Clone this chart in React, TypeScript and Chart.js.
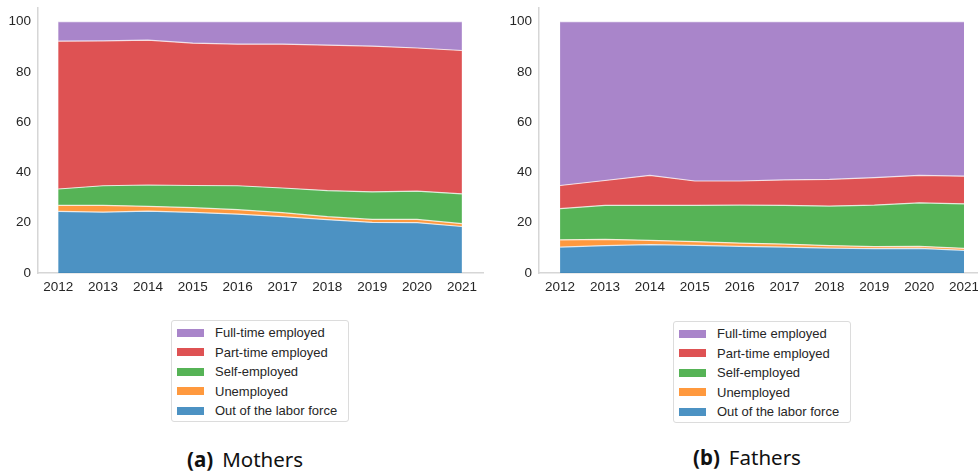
import React, { useEffect, useRef } from "react";
import { Chart, registerables } from "chart.js";

Chart.register(...registerables);

const years = [2012, 2013, 2014, 2015, 2016, 2017, 2018, 2019, 2020, 2021];
const yTicks = [0, 20, 40, 60, 80, 100];

const seriesNames = [
  "Out of the labor force",
  "Unemployed",
  "Self-employed",
  "Part-time employed",
  "Full-time employed",
];
const seriesColors = [
  "rgba(31,119,180,0.8)",
  "rgba(255,127,14,0.8)",
  "rgba(44,160,44,0.8)",
  "rgba(214,39,40,0.8)",
  "rgba(148,103,189,0.8)",
];

// Mothers (%)
const mothersOut = [24.5, 24.2, 24.6, 24.1, 23.4, 22.4, 21.2, 20.1, 20.0, 18.5];
const mothersUnemp = [2.4, 2.7, 1.9, 1.9, 1.8, 1.6, 1.2, 1.2, 1.3, 1.1];
const mothersSelf = [6.5, 7.8, 8.5, 8.8, 9.5, 9.8, 10.4, 11.0, 11.3, 11.9];
const mothersPart = [58.8, 57.6, 57.6, 56.6, 56.3, 57.2, 57.8, 57.9, 56.9, 57.0];
const mothersFull = [7.8, 7.7, 7.4, 8.6, 9.0, 9.0, 9.4, 9.8, 10.5, 11.5];

// Fathers (%)
const fathersOut = [10.3, 10.9, 11.3, 11.0, 10.6, 10.3, 9.9, 9.7, 9.8, 9.0];
const fathersUnemp = [2.9, 2.5, 1.7, 1.5, 1.3, 1.2, 1.0, 0.8, 0.8, 0.8];
const fathersSelf = [12.4, 13.5, 13.9, 14.4, 15.1, 15.4, 15.7, 16.5, 17.3, 17.7];
const fathersPart = [9.2, 9.9, 11.9, 9.7, 9.6, 10.1, 10.6, 10.9, 10.9, 11.0];
const fathersFull = [65.2, 63.2, 61.2, 63.4, 63.4, 63.0, 62.8, 62.1, 61.2, 61.5];

const mothersSeries = [mothersOut, mothersUnemp, mothersSelf, mothersPart, mothersFull];
const fathersSeries = [fathersOut, fathersUnemp, fathersSelf, fathersPart, fathersFull];

const TICK_FONT = { family: "'Liberation Sans', Arial, sans-serif", size: 13.5 };
const TICK_COLOR = "#262626";
const SPINE = "#d6d6d6";

type PanelProps = {
  series: number[][];
  width: number;
  height: number;
  yAxisWidth: number;
  padRight: number;
  xMin: number;
  xMax: number;
};

function AreaPanel({ series, width, height, yAxisWidth, padRight, xMin, xMax }: PanelProps) {
  const ref = useRef<HTMLCanvasElement | null>(null);
  useEffect(() => {
    if (!ref.current) return;
    const chart = new Chart(ref.current, {
      type: "line",
      data: {
        datasets: series.map((vals, i) => ({
          label: seriesNames[i],
          data: vals.map((v, j) => ({ x: years[j], y: v })),
          backgroundColor: seriesColors[i],
          borderColor: "rgba(255,255,255,0.75)",
          borderWidth: 1.2,
          pointRadius: 0,
          tension: 0,
          fill: i === 0 ? "origin" : "-1",
        })),
      },
      options: {
        animation: false,
        responsive: false,
        layout: { padding: { top: 8, right: padRight, left: 0, bottom: 0 } },
        plugins: { legend: { display: false }, tooltip: { enabled: false } },
        scales: {
          x: {
            type: "linear",
            min: xMin,
            max: xMax,
            grid: { display: false, drawTicks: false },
            border: { display: true, color: SPINE, width: 1.5 },
            afterBuildTicks: (s: any) => {
              s.ticks = years.map((v) => ({ value: v }));
            },
            afterFit: (s: any) => {
              s.height = 27;
              s.paddingLeft = 0;
              s.paddingRight = 0;
            },
            ticks: {
              autoSkip: false,
              maxRotation: 0,
              padding: 6,
              color: TICK_COLOR,
              font: TICK_FONT,
              callback: (v: any) => String(v),
            },
          },
          y: {
            type: "linear",
            stacked: true,
            min: 0,
            max: 105.4,
            grid: { display: false, drawTicks: false },
            border: { display: true, color: SPINE, width: 1.5 },
            afterBuildTicks: (s: any) => {
              s.ticks = yTicks.map((v) => ({ value: v }));
            },
            afterFit: (s: any) => {
              s.width = yAxisWidth;
              s.paddingTop = 0;
              s.paddingBottom = 0;
            },
            ticks: {
              padding: 7,
              color: TICK_COLOR,
              font: TICK_FONT,
              callback: (v: any) => String(v),
            },
          },
        },
      },
    } as any);
    return () => chart.destroy();
  }, []);
  return <canvas ref={ref} width={width} height={height} style={{ width, height, display: "block" }} />;
}

function Legend({ left, top }: { left: number; top: number }) {
  const order = [4, 3, 2, 1, 0];
  return (
    <div
      style={{
        position: "absolute",
        left,
        top,
        width: 176,
        height: 100,
        border: "1px solid #dcdcdc",
        borderRadius: 3,
        background: "#fff",
        boxSizing: "content-box",
        fontFamily: "'Liberation Sans', Arial, sans-serif",
        fontSize: 13,
        color: "#262626",
      }}
    >
      {order.map((i, k) => (
        <div
          key={i}
          style={{
            position: "absolute",
            left: 5,
            top: 11.5 + k * 19.5 - 10,
            height: 20,
            display: "flex",
            alignItems: "center",
            whiteSpace: "nowrap",
          }}
        >
          <span
            style={{
              display: "inline-block",
              width: 27,
              height: 8,
              background: seriesColors[i],
              marginRight: 11,
            }}
          />
          <span>{seriesNames[i]}</span>
        </div>
      ))}
    </div>
  );
}

function Caption({ left, top, tag, text }: { left: number; top: number; tag: string; text: string }) {
  return (
    <div
      style={{
        position: "absolute",
        left,
        top,
        fontFamily: "'Noto Sans', 'Open Sans', sans-serif",
        fontSize: 20.5,
        color: "#111",
        whiteSpace: "nowrap",
        lineHeight: "28px",
      }}
    >
      <span style={{ fontWeight: 700 }}>{tag}</span>
      <span style={{ marginLeft: 9 }}>{text}</span>
    </div>
  );
}

export default function App() {
  return (
    <div style={{ position: "absolute", left: 0, top: 0, width: 978, height: 472, background: "#fff", overflow: "hidden" }}>
      <div style={{ position: "absolute", left: 0, top: 0 }}>
        <AreaPanel series={mothersSeries} width={490} height={300} yAxisWidth={38} padRight={7} xMin={2011.55} xMax={2021.47} />
      </div>
      <div style={{ position: "absolute", left: 490, top: 0 }}>
        <AreaPanel series={fathersSeries} width={488} height={300} yAxisWidth={49} padRight={0} xMin={2011.53} xMax={2021.31} />
      </div>
      <Legend left={171} top={320} />
      <Legend left={673} top={321} />
      <Caption left={187} top={445} tag="(a)" text="Mothers" />
      <Caption left={693} top={443} tag="(b)" text="Fathers" />
    </div>
  );
}
